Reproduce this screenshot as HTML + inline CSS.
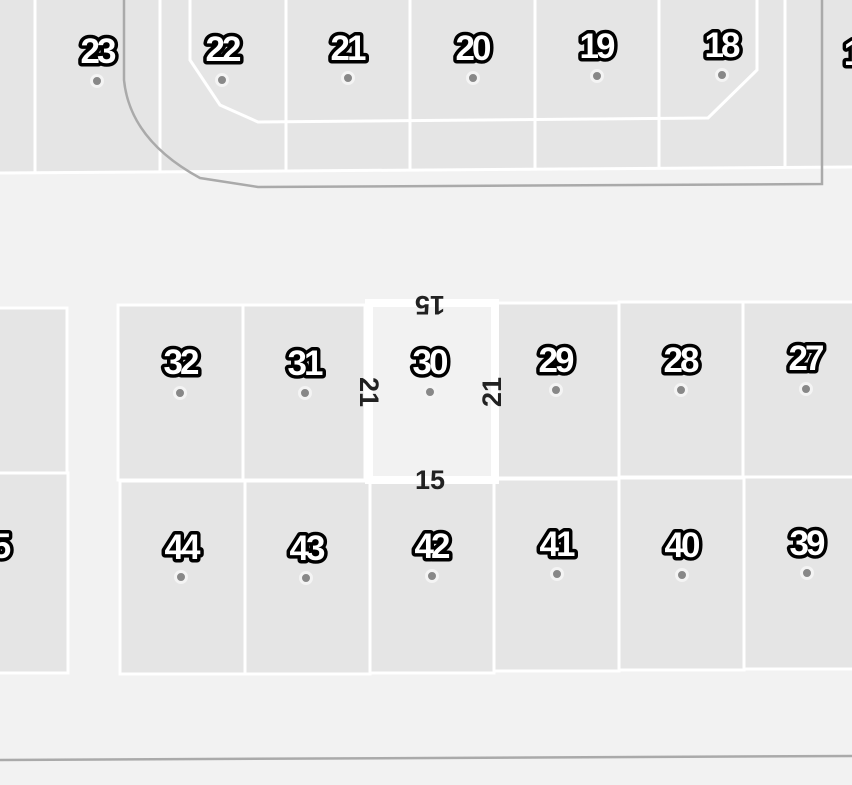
<!DOCTYPE html>
<html><head><style>
html,body{margin:0;padding:0;background:#f2f2f2;}
svg{display:block}
.n{font-family:"Liberation Sans",sans-serif;font-weight:bold;font-size:35px;fill:#fff;stroke:#000;stroke-width:7px;paint-order:stroke;stroke-linejoin:round;text-anchor:middle;letter-spacing:-3px}
.d{font-family:"Liberation Sans",sans-serif;font-weight:bold;font-size:27px;fill:#222;text-anchor:middle}
.dot{fill:#888;stroke:#f4f4f4;stroke-width:3}
.p{fill:#e5e5e5;stroke:#fff;stroke-width:3}
</style></head><body>
<svg width="852" height="785" viewBox="0 0 852 785">
<rect width="852" height="785" fill="#f2f2f2"/>
<path d="M0 0H852V168L0 173Z" fill="#e5e5e5"/>
<g stroke="#fff" stroke-width="3" fill="none">
<path d="M35 0V173M160 0V172M286 0V170M410 0V170M535 0V169M659 0V168M785 0V167"/>
<path d="M190 0V60L220 105L258 122L708 118L757 70V0"/>
<path d="M0 173L852 167"/>
</g>
<path d="M124 0V80Q130 140 200 178L258 187L822 184V0" fill="none" stroke="#aaa" stroke-width="2.5"/>
<rect class="p" x="-5" y="308" width="72" height="165"/>
<rect class="p" x="-5" y="473" width="73" height="200"/>
<g class="p">
<rect x="118" y="305" width="125" height="175"/>
<rect x="243" y="305" width="122" height="175"/>
<rect x="497" y="303" width="122" height="175"/>
<rect x="619" y="302" width="124" height="175"/>
<rect x="743" y="302" width="115" height="175"/>
<rect x="120" y="481" width="125" height="193"/>
<rect x="245" y="481" width="125" height="193"/>
<rect x="370" y="480" width="124" height="193"/>
<rect x="494" y="479" width="125" height="192"/>
<rect x="619" y="478" width="125" height="192"/>
<rect x="744" y="477" width="115" height="192"/>
</g>
<rect x="369" y="303" width="126" height="177" fill="#f2f2f2" stroke="#fff" stroke-width="8"/>
<path d="M0 760L852 756" stroke="#aaa" stroke-width="2.5"/>
<g>
<text class="n" x="97" y="63">23</text><circle class="dot" cx="97" cy="81" r="5.5"/>
<text class="n" x="222" y="61">22</text><circle class="dot" cx="222" cy="80" r="5.5"/>
<text class="n" x="347" y="60">21</text><circle class="dot" cx="348" cy="78" r="5.5"/>
<text class="n" x="472" y="60">20</text><circle class="dot" cx="473" cy="78" r="5.5"/>
<text class="n" x="596" y="58">19</text><circle class="dot" cx="597" cy="76" r="5.5"/>
<text class="n" x="721" y="57">18</text><circle class="dot" cx="722" cy="75" r="5.5"/>
<text class="n" x="852" y="65">1</text>
<text class="n" x="180" y="374">32</text><circle class="dot" cx="180" cy="393" r="5.5"/>
<text class="n" x="304" y="375">31</text><circle class="dot" cx="305" cy="393" r="5.5"/>
<text class="n" x="429" y="374">30</text><circle class="dot" cx="430" cy="392" r="5.5"/>
<text class="n" x="555" y="372">29</text><circle class="dot" cx="556" cy="390" r="5.5"/>
<text class="n" x="680" y="372">28</text><circle class="dot" cx="681" cy="390" r="5.5"/>
<text class="n" x="805" y="370">27</text><circle class="dot" cx="806" cy="389" r="5.5"/>
<text class="n" x="181" y="559">44</text><circle class="dot" cx="181" cy="577" r="5.5"/>
<text class="n" x="306" y="560">43</text><circle class="dot" cx="306" cy="578" r="5.5"/>
<text class="n" x="431" y="558">42</text><circle class="dot" cx="432" cy="576" r="5.5"/>
<text class="n" x="556" y="556">41</text><circle class="dot" cx="557" cy="574" r="5.5"/>
<text class="n" x="681" y="557">40</text><circle class="dot" cx="682" cy="575" r="5.5"/>
<text class="n" x="806" y="555">39</text><circle class="dot" cx="807" cy="573" r="5.5"/>
<text class="n" x="0" y="558">5</text>
</g>
<text class="d" x="430" y="489">15</text>
<text class="d" transform="translate(430 296) rotate(180)">15</text>
<text class="d" transform="translate(360 392) rotate(90)">21</text>
<text class="d" transform="translate(501 392) rotate(-90)">21</text>
</svg>
</body></html>
